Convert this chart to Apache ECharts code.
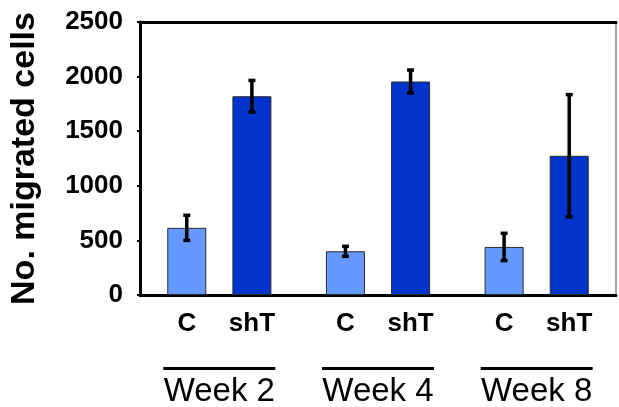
<!DOCTYPE html>
<html>
<head>
<meta charset="utf-8">
<script src="https://cdn.jsdelivr.net/npm/echarts@6/dist/echarts.min.js"></script>
<style>
  html, body { margin: 0; padding: 0; background: #fff; }
  #chart { width: 619px; height: 407px; }
</style>
</head>
<body>
<div id="chart"></div>
<script>
// Migration assay: control vs shT cells at three time points
const weeks = ['Week 2', 'Week 4', 'Week 8'];
const groupNames = ['C', 'shT'];
const controlMeans = [615, 400, 440];
const controlErrors = [115, 46, 125];
const shtMeans = [1820, 1955, 1275];
const shtErrors = [145, 105, 560];
const yTicks = { min: 0, max: 2500, step: 500 };

const FONT = '"Liberation Sans", Arial, Helvetica, sans-serif';
const BAR_W = 39;
const BAR_GAP = 0.67; // fraction of bar width between paired bars
const colors = ['#6699ff', '#0033cc'];

const chart = echarts.init(document.getElementById('chart'), null, { renderer: 'canvas' });

function errorData(means, errs) {
  return means.map((m, i) => [i, m, errs[i]]);
}

function errorBarRenderer(side) {
  return function (params, api) {
    const cat = api.value(0);
    const mean = api.value(1);
    const err = api.value(2);
    const center = api.coord([cat, mean]);
    const offset = side * (BAR_W + BAR_W * BAR_GAP) / 2;
    const x = center[0] + offset;
    const yTop = api.coord([cat, mean + err])[1];
    const yBot = api.coord([cat, mean - err])[1];
    const capHalf = 3.5;
    const style = { stroke: '#000', lineWidth: 3.5, lineCap: 'butt' };
    return {
      type: 'group',
      children: [
        { type: 'line', shape: { x1: x, y1: yTop, x2: x, y2: yBot }, style: style },
        { type: 'line', shape: { x1: x - capHalf, y1: yTop, x2: x + capHalf, y2: yTop }, style: style },
        { type: 'line', shape: { x1: x - capHalf, y1: yBot, x2: x + capHalf, y2: yBot }, style: style }
      ]
    };
  };
}

function barSeries(name, values, color) {
  return {
    name: name,
    type: 'bar',
    data: values,
    barWidth: BAR_W,
    barGap: Math.round(BAR_GAP * 100) + '%',
    itemStyle: { color: color, borderColor: '#2a2a2a', borderWidth: 1 },
    label: {
      show: true,
      position: 'bottom',
      distance: 16,
      formatter: name,
      fontFamily: FONT,
      fontWeight: 'bold',
      fontSize: 26,
      color: '#000'
    },
    emphasis: { disabled: true },
    z: 2
  };
}

const option = {
  animation: false,
  backgroundColor: '#fff',
  grid: {
    left: 140, right: 3, top: 22, bottom: 112,
    containLabel: false,
    outerBoundsMode: 'none'
  },
  xAxis: [
    {
      type: 'category',
      data: weeks,
      position: 'bottom',
      axisLine: { lineStyle: { color: '#000', width: 3 } },
      axisTick: { show: false },
      axisLabel: {
        margin: 72,
        interval: 0,
        formatter: v => '{rule|}\n{wk|' + v + '}',
        rich: {
          rule: { width: 112, height: 3, lineHeight: 3, backgroundColor: '#000' },
          wk: { fontFamily: FONT, fontSize: 33, lineHeight: 44, color: '#000' }
        }
      }
    },
    {
      type: 'category',
      data: weeks,
      position: 'top',
      axisLine: { show: true, onZero: false, lineStyle: { color: '#000', width: 3 } },
      axisTick: { show: false },
      axisLabel: { show: false }
    }
  ],
  yAxis: [
    {
      type: 'value',
      min: yTicks.min,
      max: yTicks.max,
      interval: yTicks.step,
      position: 'left',
      name: 'No. migrated cells',
      nameLocation: 'middle',
      nameRotate: 90,
      nameGap: 98,
      nameTextStyle: { fontFamily: FONT, fontWeight: 'bold', fontSize: 34, color: '#000' },
      axisLine: { show: true, lineStyle: { color: '#000', width: 3 } },
      axisTick: { show: true, length: 3, lineStyle: { color: '#000', width: 2 } },
      axisLabel: {
        margin: 17,
        formatter: v => String(v),
        fontFamily: FONT,
        fontWeight: 'bold',
        fontSize: 26,
        color: '#000'
      },
      splitLine: { show: false }
    },
    {
      type: 'value',
      min: yTicks.min,
      max: yTicks.max,
      interval: yTicks.step,
      position: 'right',
      axisLine: { show: true, onZero: false, lineStyle: { color: '#888', width: 1.5 } },
      axisTick: { show: false },
      axisLabel: { show: false },
      splitLine: { show: false }
    }
  ],
  series: [
    barSeries(groupNames[0], controlMeans, colors[0]),
    barSeries(groupNames[1], shtMeans, colors[1]),
    {
      type: 'custom',
      renderItem: errorBarRenderer(-1),
      data: errorData(controlMeans, controlErrors),
      encode: { x: 0, y: [1, 2] },
      z: 5,
      silent: true
    },
    {
      type: 'custom',
      renderItem: errorBarRenderer(1),
      data: errorData(shtMeans, shtErrors),
      encode: { x: 0, y: [1, 2] },
      z: 5,
      silent: true
    }
  ]
};

chart.setOption(option);
</script>
</body>
</html>
